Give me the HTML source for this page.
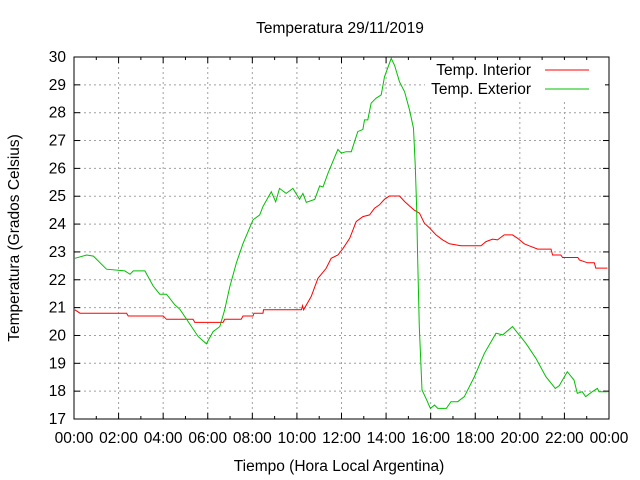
<!DOCTYPE html>
<html><head><meta charset="utf-8"><style>
html,body{margin:0;padding:0;background:#fff}
svg{display:block;font-family:"Liberation Sans",sans-serif}
</style></head><body>
<svg id="chart" width="640" height="480"></svg>
<script>
const xTickLabels=["00:00","02:00","04:00","06:00","08:00","10:00","12:00","14:00","16:00","18:00","20:00","22:00","00:00"];
const yTicks=[17,18,19,20,21,22,23,24,25,26,27,28,29,30];
const seriesNames=["Temp. Interior","Temp. Exterior"];
const interiorHours=[0.04,0.27,2.36,2.43,4.0,4.15,5.34,5.42,6.69,6.76,7.5,7.58,8.03,8.07,8.48,8.5,10.2,10.25,10.3,10.64,10.94,11.31,11.54,11.84,12.07,12.37,12.66,12.96,13.26,13.48,13.7,13.93,14.15,14.6,14.83,15.05,15.27,15.5,15.72,15.94,16.24,16.54,16.84,17.36,18.26,18.48,18.78,19.0,19.3,19.67,19.9,20.2,20.42,20.8,21.4,21.47,21.84,21.92,22.6,22.67,23.04,23.34,23.41,23.93];
const interiorTemps=[20.92,20.8,20.8,20.7,20.7,20.58,20.58,20.47,20.47,20.58,20.58,20.7,20.7,20.8,20.8,20.92,20.92,21.07,20.92,21.4,22.05,22.41,22.77,22.89,23.13,23.49,24.09,24.27,24.33,24.57,24.69,24.89,25.01,25.01,24.81,24.65,24.5,24.39,24.03,23.87,23.61,23.43,23.29,23.22,23.22,23.37,23.46,23.43,23.61,23.61,23.49,23.29,23.22,23.1,23.1,22.89,22.89,22.8,22.8,22.71,22.61,22.61,22.42,22.42];
const exteriorHours=[0.04,0.57,0.87,1.46,2.28,2.51,2.66,3.18,3.55,3.85,4.15,4.52,4.75,5.12,5.57,5.94,6.24,6.54,6.76,6.99,7.28,7.58,8.03,8.33,8.48,8.85,9.05,9.22,9.52,9.82,10.12,10.27,10.42,10.8,11.02,11.17,11.39,11.84,11.99,12.21,12.44,12.73,12.96,13.03,13.18,13.33,13.55,13.78,13.93,14.23,14.38,14.6,14.83,15.05,15.23,15.31,15.37,15.42,15.49,15.61,15.79,15.99,16.17,16.32,16.7,16.91,17.21,17.51,17.96,18.41,18.93,19.23,19.67,20.27,20.72,21.17,21.59,21.77,22.13,22.43,22.58,22.8,22.95,23.25,23.48,23.55,23.93];
const exteriorTemps=[22.77,22.89,22.85,22.38,22.32,22.2,22.32,22.32,21.78,21.48,21.48,21.1,20.94,20.5,19.96,19.7,20.14,20.32,20.92,21.75,22.6,23.3,24.15,24.33,24.63,25.16,24.8,25.28,25.1,25.28,24.89,25.1,24.78,24.89,25.37,25.33,25.82,26.68,26.55,26.6,26.6,27.32,27.4,27.74,27.74,28.34,28.52,28.64,29.29,29.95,29.7,29.11,28.75,28.1,27.44,26.06,24.63,22.71,20.32,18.04,17.74,17.38,17.5,17.38,17.38,17.62,17.62,17.8,18.52,19.36,20.08,20.02,20.32,19.72,19.18,18.52,18.1,18.2,18.7,18.4,17.92,17.98,17.8,17.98,18.1,17.98,17.98];

const L=74,R=609,T=57,B=419,FS=15.5;
const xs=h=>L+(R-L)*h/24;
const ys=t=>B-(B-T)*(t-17)/13;
const NS="http://www.w3.org/2000/svg";
const svg=document.getElementById('chart');
function mk(tag,attrs,parent){const e=document.createElementNS(NS,tag);for(const k in attrs)e.setAttribute(k,attrs[k]);(parent||svg).appendChild(e);return e;}

const grid=mk('g',{});


const ticks=mk('g',{});


xTickLabels.forEach((lab,i)=>{
  const x=xs(i*2);
  if(i>0&&i<xTickLabels.length-1){mk('line',{x1:x,x2:x,y1:T,y2:B,stroke:'#a0a0a0','stroke-dasharray':'2,3','stroke-width':1},grid);}
  mk('line',{x1:x,x2:x,y1:B,y2:B-6,stroke:'#000'},grid);
  mk('line',{x1:x,x2:x,y1:T,y2:T+6,stroke:'#000'},grid);
  if(i<xTickLabels.length-1){const xm=xs(i*2+1);
    mk('line',{x1:xm,x2:xm,y1:B,y2:B-3,stroke:'#000'},grid);
    mk('line',{x1:xm,x2:xm,y1:T,y2:T+3,stroke:'#000'},grid);}
  const t=mk('text',{x:x,y:443,'text-anchor':'middle','font-size':FS,fill:'#000'},ticks);
  t.textContent=lab;
});
yTicks.forEach((v,i)=>{
  const y=ys(v);
  if(i>0&&i<yTicks.length-1){mk('line',{x1:L,x2:R,y1:y,y2:y,stroke:'#a0a0a0','stroke-dasharray':'2,3','stroke-width':1},grid);}
  mk('line',{x1:L,x2:L+6,y1:y,y2:y,stroke:'#000'},grid);
  mk('line',{x1:R,x2:R-6,y1:y,y2:y,stroke:'#000'},grid);
  const t=mk('text',{x:66,y:y+5,'text-anchor':'end','font-size':FS,fill:'#000'},ticks);
  t.textContent=v;
});
mk('rect',{x:425,y:60,width:180,height:40,fill:'#fff'});

function drawLine(hours,temps,color,name){
  const d=hours.map((h,i)=>(i?'L':'M')+xs(h).toFixed(1)+','+ys(temps[i]).toFixed(1)).join(' ');
  const p=mk('path',{d:d,fill:'none',stroke:color,'stroke-width':1});
  
  
}
drawLine(interiorHours,interiorTemps,'#ff0000','interior-line');
drawLine(exteriorHours,exteriorTemps,'#00c000','exterior-line');

const frame=mk('rect',{x:L,y:T,width:R-L,height:B-T,fill:'none',stroke:'#000'});



const legColors=['#ff0000','#00c000'];
seriesNames.forEach((n,i)=>{
  const g=mk('g',{});
  
  
  const y=70+i*19;
  const t=mk('text',{x:531,y:y+5,'text-anchor':'end','font-size':FS,fill:'#000'},g);
  t.textContent=n;
  mk('line',{x1:545,x2:589,y1:y,y2:y,stroke:legColors[i]},g);
});

const title=mk('text',{x:340,y:33,'text-anchor':'middle','font-size':FS,fill:'#000'});
title.textContent='Temperatura 29/11/2019';


const xl=mk('text',{x:339,y:471,'text-anchor':'middle','font-size':FS,fill:'#000'});
xl.textContent='Tiempo (Hora Local Argentina)';


const yl=mk('text',{x:0,y:0,'text-anchor':'middle','font-size':FS,fill:'#000',transform:'translate(19,238) rotate(-90)'});
yl.textContent='Temperatura (Grados Celsius)';


</script>
</body></html>
